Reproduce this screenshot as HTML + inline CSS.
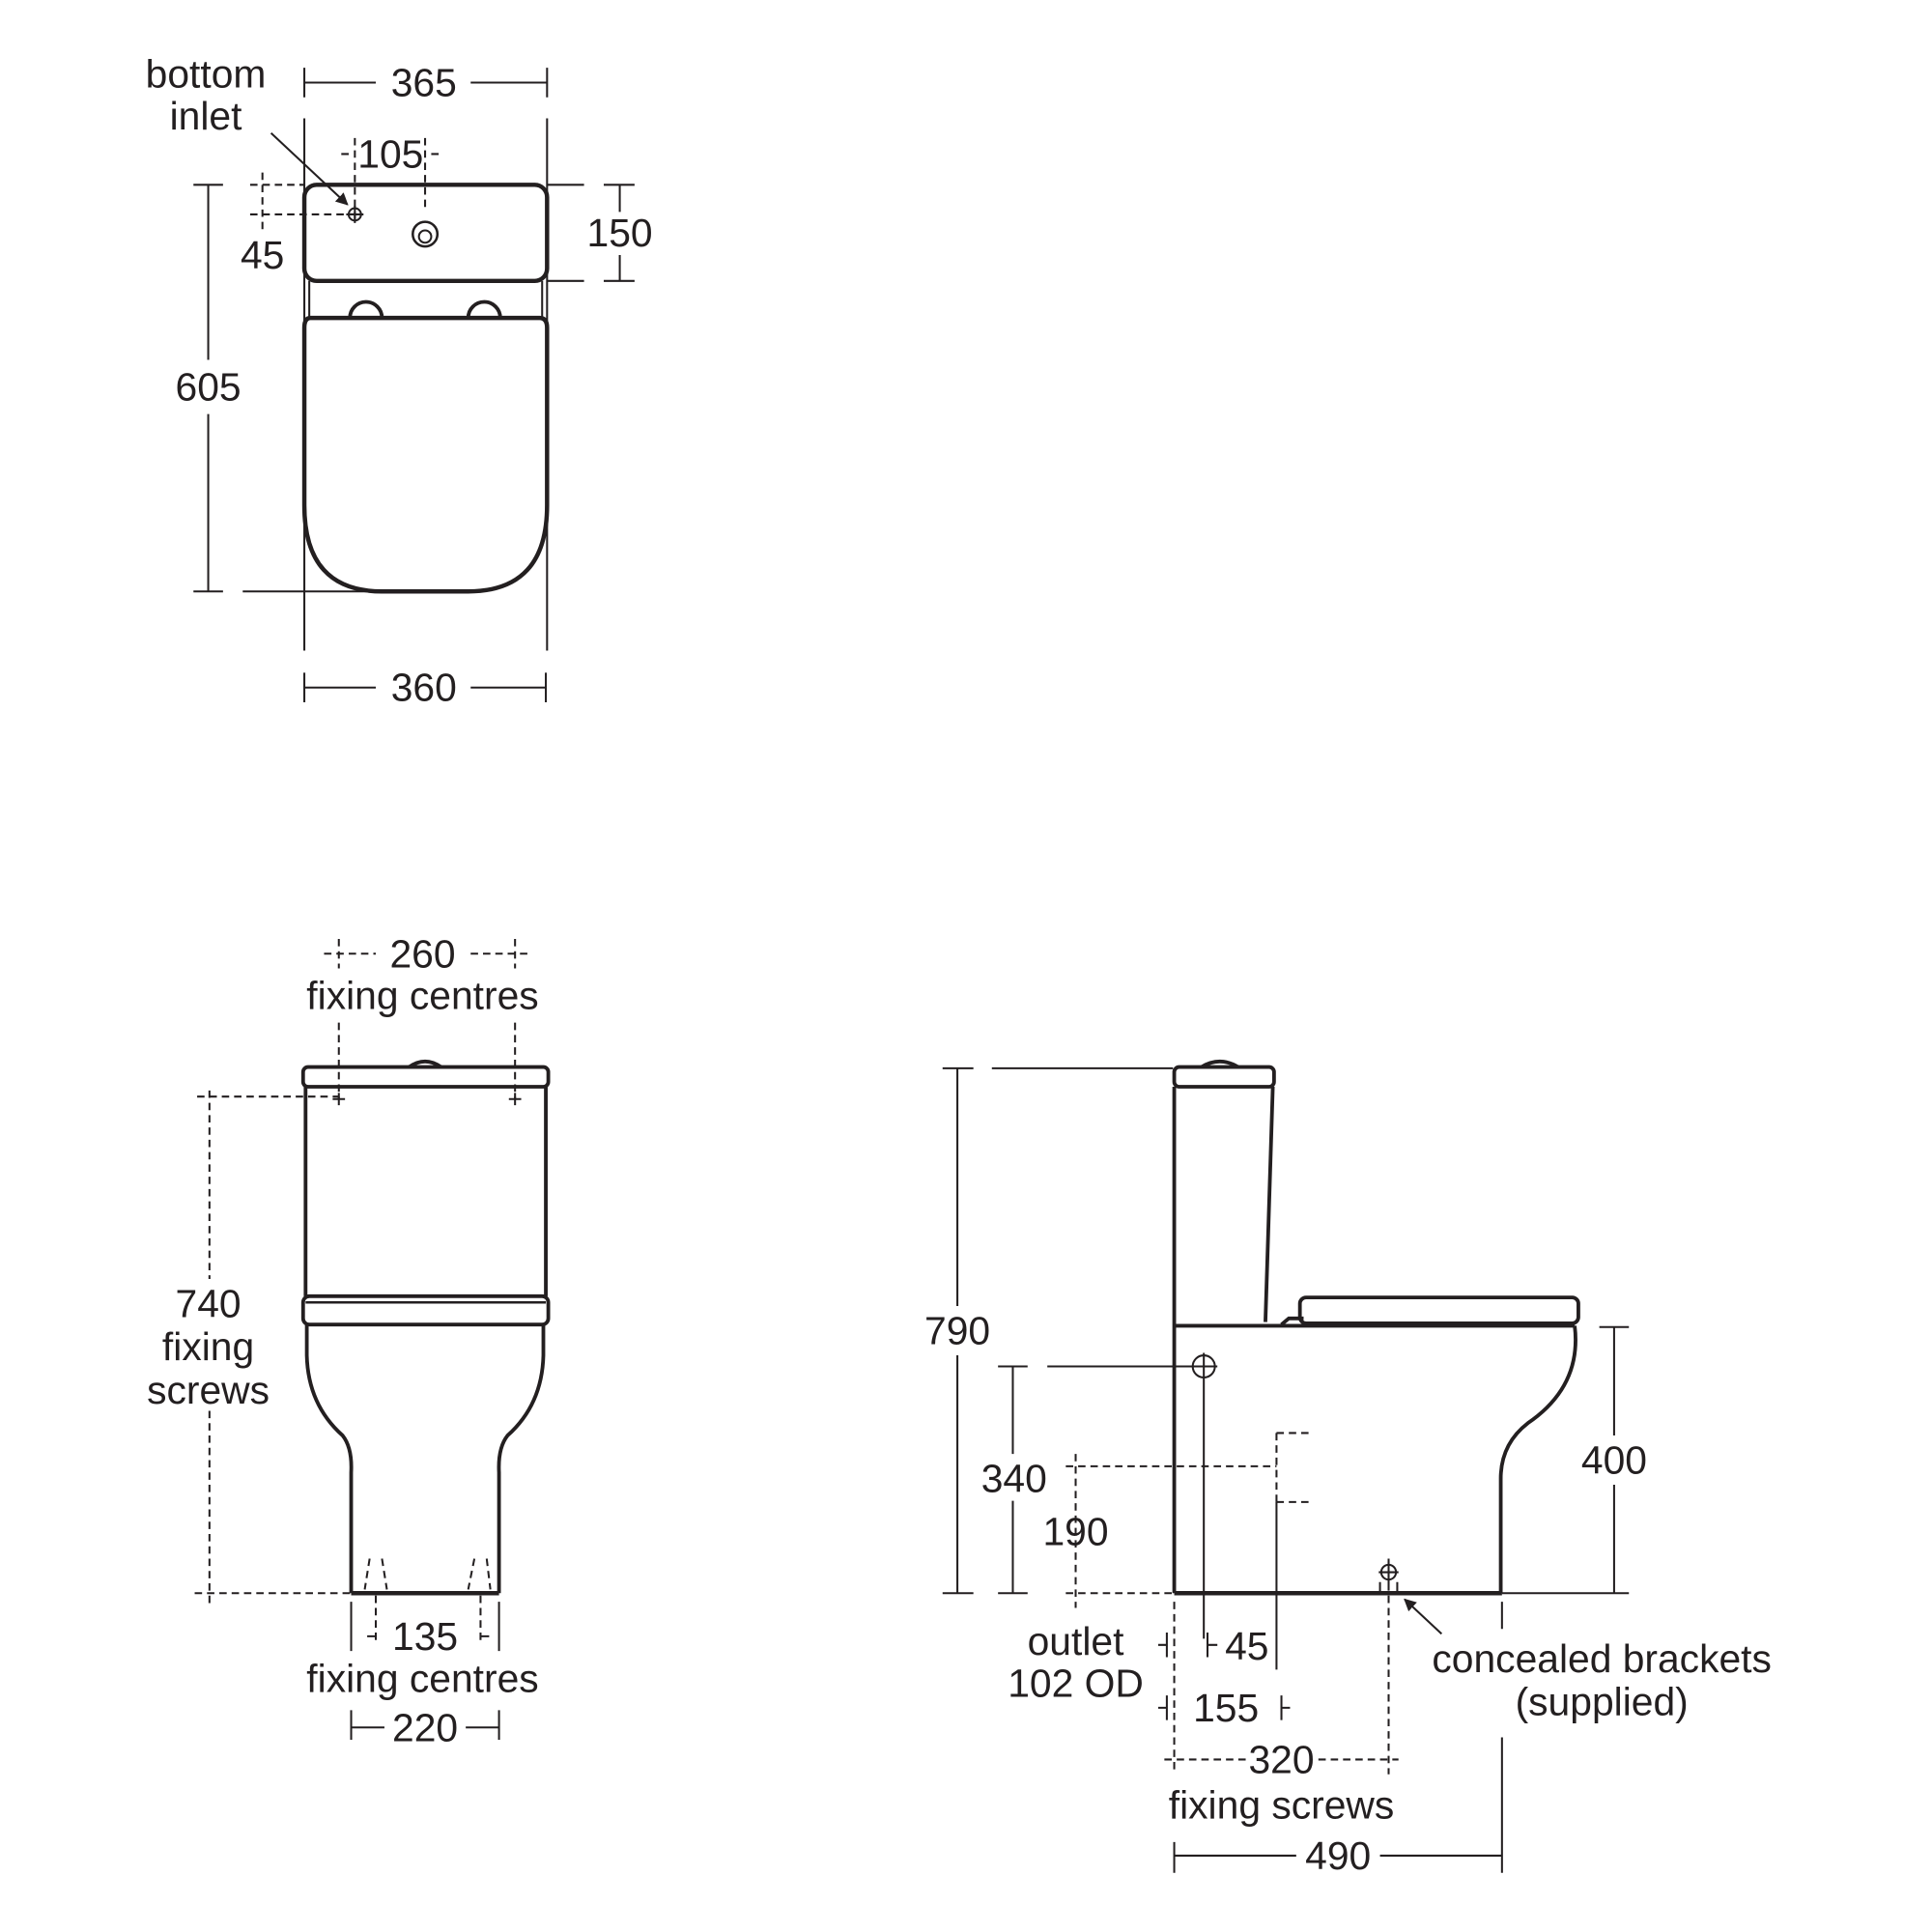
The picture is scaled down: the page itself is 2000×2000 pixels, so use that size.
<!DOCTYPE html>
<html><head><meta charset="utf-8"><style>html,body{margin:0;padding:0;background:#fff}svg{display:block}text{font-family:"Liberation Sans",sans-serif;font-size:32px;fill:#231f20;text-anchor:middle}</style></head><body>
<svg width="2000" height="2000" viewBox="0 0 1568 1568" xmlns="http://www.w3.org/2000/svg">
<defs><marker id="ah" markerWidth="10" markerHeight="10" refX="9" refY="5" orient="auto" markerUnits="userSpaceOnUse"><path d="M0,0 L10,5 L0,10 z" fill="#231f20"/></marker></defs>
<g stroke="#231f20" fill="none" stroke-width="1.6">
<path d="M247,55V79M444,55V79M247,67H305M382,67H444"/>
<path d="M247,96V528M444,96V528"/>
<rect x="247" y="150" width="197" height="78" rx="10" stroke-width="3.5"/>
<path d="M444,150H474M444,228H474M490,150H515M490,228H515M503,150V172M503,207V228"/>
<circle cx="345" cy="190" r="10" stroke-width="2"/><circle cx="345" cy="192" r="5"/>
<g stroke-dasharray="6,4"><path d="M288,112V182M345,112V170M213,140V186M203,150H247M203,174H290M277,125H284M350,125H357"/></g>
<circle cx="288" cy="174" r="5"/><path d="M281,174H295M288,167V181"/>
<path d="M220,108L282,166" marker-end="url(#ah)"/>
<path d="M251,228V258M440,228V258"/>
<path d="M284,258A13,13 0 0 1 310,258M380,258A13,13 0 0 1 406,258" stroke-width="3"/>
<path d="M252,258H438Q444,258 444,266V410Q444,480 380,480H310Q247,480 247,410V266Q247,258 252,258Z" stroke-width="3.5"/>
<path d="M157,150H181M157,480H181M169,150V292M169,336V480M197,480H345"/>
<path d="M247,546V570M443,546V570M247,558H305M382,558H443"/>
</g>
<text x="167" y="71">bottom</text><text x="167" y="105">inlet</text>
<text x="344" y="78">365</text><text x="317" y="136">105</text><text x="213" y="218">45</text>
<text x="503" y="200">150</text><text x="169" y="325">605</text><text x="344" y="569">360</text>

<g stroke="#231f20" fill="none" stroke-width="1.6">
<g stroke-dasharray="6,4"><path d="M263,774H305M382,774H428M275,762V786M418,762V786M275,830V892M418,830V892M160,890H275M170,885V1038M170,1145V1305M158,1293H285M305,1295V1335M390,1295V1335M300,1265L296,1290M310,1265L314,1290M385,1265L380,1290M395,1265L398,1290"/></g>
<rect x="246" y="866" width="199" height="16" rx="4" stroke-width="3"/>
<path d="M332,866Q345,857 358,866" stroke-width="3"/>
<path d="M248,882V1052M443,882V1052" stroke-width="3"/>
<path d="M270,892H280M275,887V897M413,892H423M418,887V897"/>
<rect x="246" y="1052" width="199" height="23" rx="5" stroke-width="3"/><path d="M248,1057H443" stroke-width="2"/>
<path d="M249,1075V1100Q250,1140 278,1165Q286,1175 285,1195V1293M441,1075V1100Q440,1140 412,1165Q404,1175 405,1195V1293" stroke-width="3"/>
<path d="M285,1293H405" stroke-width="3.5"/>
<path d="M298,1328H305M390,1328H397M285,1300V1340M405,1300V1340M285,1388V1412M405,1388V1412M285,1402H312M378,1402H405"/>
</g>
<text x="343" y="785">260</text><text x="343" y="819">fixing centres</text>
<text x="169" y="1069">740</text><text x="169" y="1104">fixing</text><text x="169" y="1139">screws</text>
<text x="345" y="1339">135</text><text x="343" y="1373">fixing centres</text><text x="345" y="1413">220</text>

<g stroke="#231f20" fill="none" stroke-width="1.6">
<path d="M765,867H790M765,1293H790M777,867V1060M777,1100V1293M805,867H952"/>
<rect x="953" y="866" width="81" height="16" rx="4" stroke-width="3"/>
<path d="M975,866Q990,857 1005,866" stroke-width="3"/>
<path d="M953,882V1293M1033,882L1027,1073" stroke-width="3"/>
<path d="M953,1076H1278" stroke-width="3"/>
<rect x="1055" y="1053" width="226" height="21" rx="5" stroke-width="3"/>
<path d="M1040,1075L1046,1070H1058" stroke-width="3"/>
<path d="M1278,1076Q1284,1125 1240,1155Q1218,1172 1218,1200V1293" stroke-width="3"/>
<path d="M953,1293H1219" stroke-width="3.5"/>
<path d="M1219,1293H1320M1298,1077H1322M1298,1293H1322M1310,1077V1165M1310,1205V1293"/>
<circle cx="977" cy="1109" r="9"/><path d="M850,1109H988M977,1098V1330"/>
<path d="M810,1109H834M810,1293H834M822,1109V1180M822,1218V1293"/>
<g stroke-dasharray="6,4"><path d="M873,1180V1305M865,1190H1036M1036,1163H1065M1036,1219H1065M1036,1163V1219M865,1293H953M1127,1265V1440M953,1300V1440M945,1428H1012M1070,1428H1135"/></g>
<path d="M1036,1219V1355M1219,1300V1322M1219,1410V1520"/>
<circle cx="1127" cy="1276" r="6"/><path d="M1119,1276H1135M1127,1267V1285M1120,1284V1292H1134V1284"/>
<path d="M1170,1326L1140,1298" marker-end="url(#ah)"/>
<path d="M940,1335H947M947,1325V1345M980,1325V1345M980,1335H988M940,1386H947M947,1376V1396M1040,1376V1396M1040,1386H1047"/>
<path d="M953,1495V1520M953,1506H1052M1120,1506H1219"/>
</g>
<text x="777" y="1091">790</text><text x="823" y="1211">340</text><text x="873" y="1254">190</text>
<text x="1310" y="1196">400</text>
<text x="873" y="1343">outlet</text><text x="873" y="1377">102 OD</text>
<text x="1012" y="1347">45</text><text x="995" y="1397">155</text>
<text x="1040" y="1439">320</text><text x="1040" y="1476">fixing screws</text>
<text x="1086" y="1517">490</text>
<text x="1300" y="1357">concealed brackets</text><text x="1300" y="1392">(supplied)</text>
</svg>
</body></html>
